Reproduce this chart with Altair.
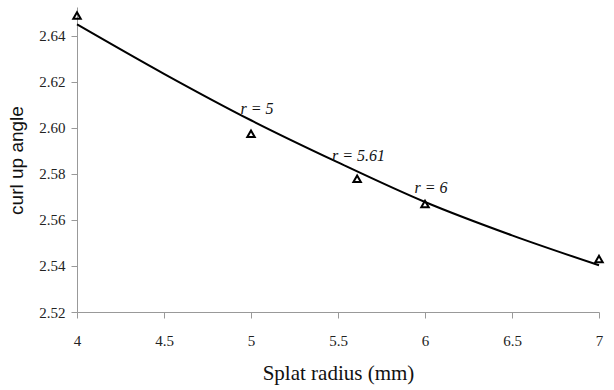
import altair as alt
import pandas as pd

# measured points (open triangles)
radius = [4, 5, 5.61, 6, 7]
angle = [2.6488, 2.5974, 2.5779, 2.5669, 2.5430]

# fitted trend curve
curve_x = [4.0, 4.5, 5.0, 5.5, 6.0, 6.5, 7.0]
curve_y = [2.6450, 2.6235, 2.6033, 2.5850, 2.5678, 2.5533, 2.5403]

# annotations
ann_text = ["r = 5", "r = 5.61", "r = 6"]
ann_x = [4.94, 5.465, 5.94]
ann_y = [2.6084, 2.5876, 2.5737]

pts = pd.DataFrame({"r": radius, "a": angle})
crv = pd.DataFrame({"r": curve_x, "a": curve_y})
ann = pd.DataFrame({"r": ann_x, "a": ann_y, "t": ann_text})

SERIF = "Liberation Serif"
SANS = "Liberation Sans"

xs = alt.Scale(domain=[4, 7], nice=False, zero=False)
ys = alt.Scale(domain=[2.52, 2.6525], nice=False, zero=False)

xaxis = alt.Axis(
    title="Splat radius (mm)", values=[4, 4.5, 5, 5.5, 6, 6.5, 7], format="~g",
    grid=False, domainColor="#999999", tickColor="#999999", tickSize=6,
    labelFont=SERIF, labelFontSize=15, labelColor="#222222",
    labelPadding=15, labelFlush=False,
    titleFont=SERIF, titleFontSize=21, titleFontWeight="normal",
    titleColor="#111111", titleY=61, titleBaseline="middle",
)
yaxis = alt.Axis(
    title="curl up angle", values=[2.52, 2.54, 2.56, 2.58, 2.60, 2.62, 2.64], format=".2f",
    grid=False, domainColor="#999999", tickColor="#999999", tickSize=6,
    labelFont=SERIF, labelFontSize=15, labelColor="#222222",
    labelPadding=6,
    titleFont=SANS, titleFontSize=19, titleFontWeight="normal",
    titleColor="#111111", titleX=-61, titleY=153, titleAngle=-90,
    titleAlign="center", titleBaseline="middle",
)

line = alt.Chart(crv).mark_line(color="black", strokeWidth=2, interpolate="monotone").encode(
    x=alt.X("r:Q", scale=xs, axis=xaxis),
    y=alt.Y("a:Q", scale=ys, axis=yaxis),
)
points = alt.Chart(pts).mark_point(
    shape="triangle-up", filled=False, color="black", size=55, strokeWidth=2, opacity=1
).encode(x=alt.X("r:Q", scale=xs), y=alt.Y("a:Q", scale=ys))
labels = alt.Chart(ann).mark_text(
    font=SERIF, fontStyle="italic", fontSize=16, align="left",
    baseline="middle", color="#111111"
).encode(x=alt.X("r:Q", scale=xs), y=alt.Y("a:Q", scale=ys), text="t:N")

chart = (line + points + labels).properties(
    width=522, height=305,
    autosize=alt.AutoSizeParams(type="none"),
    padding={"left": 77, "top": 7, "right": 15, "bottom": 78},
    background="white",
).configure_view(stroke=None)

chart.save("out.html", embed_options={"renderer": "svg", "actions": False})
